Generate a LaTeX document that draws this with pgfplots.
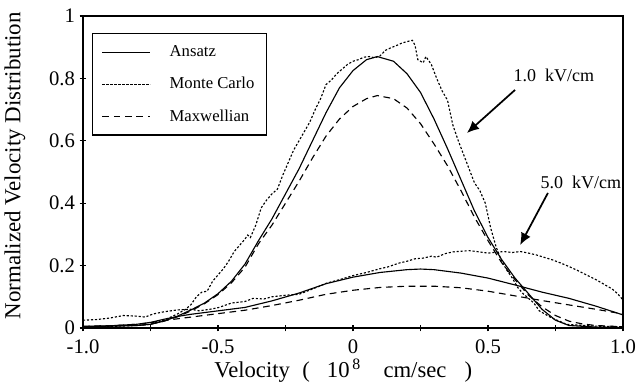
\documentclass[border=0pt]{standalone}
\usepackage{pgfplots}
\pgfplotsset{compat=1.18}
\usepackage{fontspec}
\setmainfont{Liberation Serif}
\usetikzlibrary{arrows.meta}
\newcommand{\lgf}{\fontsize{12.5}{14}\selectfont}
\newcommand{\annf}{\fontsize{13.5}{15}\selectfont}
\newcommand{\tickf}{\fontsize{15.5}{17}\selectfont}
\newcommand{\xlabf}{\fontsize{17}{19}\selectfont}
\newcommand{\ylabf}{\fontsize{17.2}{19}\selectfont}
\begin{document}
\begin{tikzpicture}
\begin{axis}[
  scale only axis, width=405pt, height=234pt,
  xmin=-1, xmax=1, ymin=0, ymax=1,
  xtick={-1,-0.5,0,0.5,1}, xticklabels={-1.0,-0.5,0,0.5,1.0},
  minor xtick={-0.75,-0.25,0.25,0.75},
  ytick={0,0.2,0.4,0.6,0.8,1}, yticklabels={0,0.2,0.4,0.6,0.8,1},
  xtick pos=bottom, ytick pos=left,
  tick align=center, major tick length=5pt, minor tick length=5pt,
  tick style={black, line width=0.8pt},
  axis line style={line width=0.9pt},
  xticklabel style={font=\tickf, yshift=-3pt},
  yticklabel style={font=\tickf},
  xlabel={Velocity\hspace{0.55em}(\hspace{0.75em}10\textsuperscript{\,8}\hspace{1em}cm/sec\hspace{0.8em})},
  ylabel={Normalized Velocity Distribution},
  xlabel style={font=\xlabf, at={(axis description cs:0.482,-0.16)}, anchor=base},
  ylabel style={font=\ylabf, at={(axis description cs:-0.098,0.52)}, rotate=0, anchor=south},
  legend style={at={(0.0167,0.9455)}, anchor=north west, draw=black, line width=0.9pt,
    font=\lgf, row sep=10pt, inner xsep=7pt, inner ysep=7pt,
    /tikz/every odd column/.append style={column sep=12pt}},
  legend cell align=left,
  legend image code/.code={\draw[#1,line width=0.8pt] (0pt,0pt) -- (36pt,0pt);},
  every axis plot/.append style={black, line width=0.85pt},
]
% 1.0 kV/cm Ansatz
\addplot[solid] coordinates {
(-1.0,0.005) (-0.9,0.006) (-0.8,0.008) (-0.75,0.012) (-0.7,0.022) (-0.65,0.038)
(-0.6,0.058) (-0.55,0.08) (-0.5,0.11) (-0.45,0.15) (-0.4,0.205) (-0.35,0.28)
(-0.3,0.35) (-0.25,0.43) (-0.2,0.51) (-0.15,0.6) (-0.1,0.69) (-0.05,0.77)
(0.0,0.825) (0.05,0.86) (0.09,0.87) (0.15,0.855) (0.2,0.815) (0.25,0.755)
(0.3,0.67) (0.35,0.575) (0.4,0.475) (0.45,0.375) (0.5,0.29) (0.55,0.22)
(0.6,0.16) (0.65,0.11) (0.7,0.06) (0.75,0.025) (0.8,0.008) (0.9,0.003) (1.0,0.002)};
\addlegendentry{Ansatz}
% 1.0 kV/cm Monte Carlo
\addplot[dash pattern=on 1.6pt off 1.4pt] coordinates {
(-1.0,0.003) (-0.9,0.005) (-0.8,0.008) (-0.75,0.012) (-0.7,0.025) (-0.65,0.045)
(-0.62,0.06) (-0.6,0.075) (-0.58,0.1) (-0.56,0.115) (-0.54,0.118) (-0.52,0.15)
(-0.5,0.17) (-0.48,0.19) (-0.46,0.215) (-0.44,0.245) (-0.42,0.265) (-0.4,0.285)
(-0.39,0.298) (-0.38,0.29) (-0.36,0.33) (-0.34,0.385) (-0.32,0.41) (-0.3,0.43)
(-0.28,0.445) (-0.26,0.49) (-0.24,0.53) (-0.22,0.57) (-0.2,0.6) (-0.18,0.63)
(-0.16,0.66) (-0.14,0.7) (-0.12,0.735) (-0.1,0.78) (-0.08,0.795) (-0.06,0.815)
(-0.04,0.83) (-0.02,0.845) (0.0,0.855) (0.02,0.86) (0.04,0.868) (0.06,0.87)
(0.08,0.866) (0.1,0.872) (0.12,0.89) (0.14,0.898) (0.16,0.905) (0.18,0.913)
(0.2,0.918) (0.22,0.922) (0.23,0.905) (0.24,0.86) (0.26,0.85) (0.27,0.87)
(0.29,0.845) (0.31,0.8) (0.33,0.76) (0.35,0.73) (0.37,0.65) (0.39,0.6)
(0.41,0.555) (0.43,0.51) (0.45,0.465) (0.47,0.44) (0.49,0.4) (0.51,0.32)
(0.53,0.26) (0.55,0.215) (0.57,0.185) (0.59,0.16) (0.61,0.13) (0.63,0.11)
(0.65,0.095) (0.67,0.08) (0.69,0.055) (0.71,0.045) (0.73,0.035) (0.75,0.027)
(0.77,0.02) (0.79,0.012) (0.82,0.01) (0.86,0.008) (0.9,0.006) (1.0,0.004)};
\addlegendentry{Monte Carlo}
% 1.0 kV/cm Maxwellian
\addplot[dash pattern=on 5pt off 3.5pt] coordinates {
(-1.0,0.005) (-0.8,0.008) (-0.75,0.012) (-0.7,0.022) (-0.65,0.036) (-0.6,0.055)
(-0.55,0.078) (-0.5,0.107) (-0.45,0.145) (-0.4,0.195) (-0.35,0.27) (-0.3,0.33)
(-0.25,0.4) (-0.2,0.47) (-0.15,0.545) (-0.1,0.615) (-0.05,0.67) (0.0,0.71)
(0.05,0.735) (0.09,0.745) (0.15,0.735) (0.2,0.705) (0.25,0.655) (0.3,0.59)
(0.35,0.52) (0.4,0.44) (0.45,0.355) (0.5,0.28) (0.55,0.21) (0.6,0.155)
(0.65,0.105) (0.7,0.068) (0.75,0.04) (0.8,0.022) (0.85,0.013) (0.9,0.008) (1.0,0.004)};
\addlegendentry{Maxwellian}
% 5.0 kV/cm Ansatz
\addplot[solid, forget plot] coordinates {
(-1.0,0.005) (-0.9,0.007) (-0.8,0.012) (-0.75,0.018) (-0.7,0.028) (-0.65,0.037)
(-0.6,0.044) (-0.5,0.055) (-0.4,0.066) (-0.3,0.087) (-0.2,0.112) (-0.1,0.142)
(0.0,0.163) (0.1,0.178) (0.2,0.187) (0.25,0.189) (0.3,0.187) (0.4,0.176)
(0.5,0.16) (0.6,0.138) (0.7,0.115) (0.8,0.095) (0.9,0.07) (1.0,0.042)};
% 5.0 kV/cm Monte Carlo
\addplot[dash pattern=on 1.6pt off 1.4pt, forget plot] coordinates {
(-1.0,0.025) (-0.95,0.027) (-0.9,0.032) (-0.85,0.04) (-0.8,0.038) (-0.77,0.035)
(-0.74,0.045) (-0.7,0.052) (-0.65,0.058) (-0.6,0.06) (-0.57,0.055) (-0.53,0.06)
(-0.5,0.065) (-0.45,0.08) (-0.4,0.085) (-0.37,0.095) (-0.33,0.093) (-0.3,0.1)
(-0.25,0.105) (-0.2,0.108) (-0.15,0.125) (-0.1,0.143) (-0.05,0.155) (0.0,0.168)
(0.05,0.178) (0.1,0.19) (0.13,0.196) (0.17,0.208) (0.2,0.214) (0.23,0.222)
(0.26,0.224) (0.29,0.23) (0.31,0.227) (0.34,0.238) (0.37,0.244) (0.4,0.246)
(0.43,0.248) (0.46,0.245) (0.5,0.24) (0.53,0.243) (0.56,0.245) (0.59,0.242)
(0.62,0.245) (0.65,0.24) (0.68,0.234) (0.71,0.226) (0.74,0.218) (0.77,0.208)
(0.8,0.197) (0.83,0.185) (0.86,0.172) (0.9,0.155) (0.93,0.14) (0.96,0.125)
(0.98,0.11) (1.0,0.09)};
% 5.0 kV/cm Maxwellian
\addplot[dash pattern=on 5pt off 3.5pt, forget plot] coordinates {
(-1.0,0.005) (-0.9,0.007) (-0.8,0.012) (-0.75,0.017) (-0.7,0.024) (-0.6,0.035)
(-0.5,0.046) (-0.4,0.057) (-0.3,0.072) (-0.2,0.089) (-0.1,0.108) (0.0,0.121)
(0.1,0.13) (0.2,0.134) (0.3,0.134) (0.4,0.129) (0.5,0.118) (0.6,0.103)
(0.7,0.088) (0.8,0.074) (0.9,0.06) (1.0,0.045)};
% annotations
\node[font=\annf] at (axis cs:0.744,0.811) {1.0\ \ kV/cm};
\node[font=\annf] at (axis cs:0.844,0.468) {5.0\ \ kV/cm};
\draw[-{Latex[length=9pt,width=8pt]}, line width=1.3pt] (axis cs:0.6,0.763) -- (axis cs:0.422,0.625);
\draw[-{Latex[length=9pt,width=8pt]}, line width=1.3pt] (axis cs:0.722,0.433) -- (axis cs:0.619,0.266);
\end{axis}
\pgfresetboundingbox
\path ([xshift=-62.25pt,yshift=-41.25pt]current axis.south west) rectangle ([xshift=11.25pt,yshift=12pt]current axis.north east);
\end{tikzpicture}
\end{document}
